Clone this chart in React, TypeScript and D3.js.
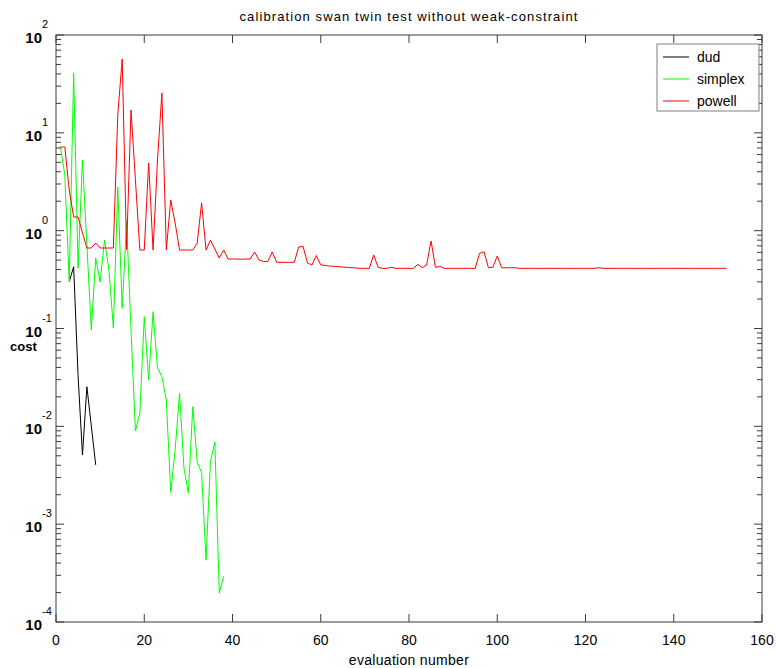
import React from 'react';
import * as d3 from 'd3';

// Cost per evaluation for each calibration method (first evaluation number given separately)
const dudFirstEval = 3;
const dudCost = [0.301, 0.428, 0.033, 0.00509, 0.0254, 0.0101, 0.00403];

const simplexFirstEval = 1;
const simplexCost = [
  7.16, 3.7, 0.301, 40.6, 0.415, 5.27, 0.713, 0.0966, 0.526, 0.299,
  0.803, 0.396, 0.101, 2.79, 0.161, 1.23, 0.0966, 0.00895, 0.0137, 0.132,
  0.0297, 0.1485, 0.0394, 0.0322, 0.0186, 0.00211, 0.00573, 0.0219, 0.00375, 0.00208,
  0.0159, 0.00432, 0.00337, 0.00043, 0.00432, 0.00692, 0.000198, 0.000292,
];

const powellFirstEval = 1;
const powellCost = [
  7.16, 7.16, 2.6, 1.38, 1.38, 0.95, 0.665, 0.665, 0.748, 0.665,
  0.665, 0.665, 0.665, 15.2, 56.9, 0.64, 17.1, 3.3, 0.634, 0.634,
  4.92, 0.634, 5.27, 25.5, 0.634, 2.06, 1.2, 0.634, 0.634, 0.634,
  0.634, 0.748, 1.92, 0.634, 0.8, 0.65, 0.526, 0.634, 0.513, 0.513,
  0.513, 0.51, 0.513, 0.513, 0.605, 0.501, 0.484, 0.484, 0.605, 0.475,
  0.475, 0.475, 0.475, 0.475, 0.681, 0.689, 0.467, 0.446, 0.557, 0.446,
  0.441, 0.435, 0.432, 0.428, 0.425, 0.422, 0.418, 0.415, 0.412, 0.412,
  0.412, 0.564, 0.422, 0.412, 0.412, 0.422, 0.412, 0.412, 0.412, 0.412,
  0.412, 0.453, 0.418, 0.446, 0.784, 0.422, 0.432, 0.412, 0.412, 0.412,
  0.412, 0.412, 0.412, 0.412, 0.412, 0.587, 0.61, 0.418, 0.422, 0.551,
  0.418, 0.418, 0.418, 0.418, 0.412, 0.412, 0.412, 0.412, 0.412, 0.412,
  0.412, 0.412, 0.412, 0.412, 0.412, 0.412, 0.412, 0.412, 0.412, 0.412,
  0.412, 0.412, 0.418, 0.412, 0.412, 0.412, 0.412, 0.412, 0.412, 0.412,
  0.412, 0.412, 0.412, 0.412, 0.412, 0.412, 0.412, 0.412, 0.412, 0.412,
  0.412, 0.412, 0.412, 0.412, 0.412, 0.412, 0.412, 0.412, 0.412, 0.412,
  0.412, 0.412,
];

const seriesNames = ['dud', 'simplex', 'powell'];
const seriesColors = ['#000000', '#00ff00', '#ff0000'];

const xTicks = [0, 20, 40, 60, 80, 100, 120, 140, 160];
const yExponents = [2, 1, 0, -1, -2, -3, -4];

const W = 776;
const H = 668;
const left = 56;
const right = 762;
const top = 35;
const bottom = 622;

const FONT = '"Liberation Sans Narrow", "Liberation Sans", Arial, sans-serif';
const AXIS = '#3c3c3c';

export default function App() {
  const x = d3.scaleLinear().domain([0, 160]).range([left, right]);
  const y = d3.scaleLog().domain([1e-4, 1e2]).range([bottom, top]);

  const line = d3
    .line<[number, number]>()
    .x((d) => x(d[0]))
    .y((d) => y(d[1]));

  const toPoints = (first: number, vals: number[]) =>
    vals.map((v, i) => [first + i, v] as [number, number]);

  const series = [
    toPoints(dudFirstEval, dudCost),
    toPoints(simplexFirstEval, simplexCost),
    toPoints(powellFirstEval, powellCost),
  ];

  // minor ticks on the log axis: 2..9 x 10^k
  const minor: number[] = [];
  for (let e = -4; e < 2; e++) {
    for (let m = 2; m <= 9; m++) minor.push(m * Math.pow(10, e));
  }

  const legendX = 657;
  const legendY = 44;
  const legendW = 102;
  const legendH = 67;

  return (
    <svg
      width={W}
      height={H}
      style={{ position: 'absolute', left: 0, top: 0, background: '#fff' }}
      fontFamily={FONT}
    >
      <rect x={0} y={0} width={W} height={H} fill="#fff" />
      <text
        x={(left + right) / 2}
        y={21}
        textAnchor="middle"
        fontSize={13}
        letterSpacing={1.1}
        fill="#000"
      >
        calibration swan twin test without weak-constraint
      </text>

      {/* data */}
      <g fill="none" strokeWidth={1}>
        {series.map((pts, i) => (
          <path key={seriesNames[i]} d={line(pts) || ''} stroke={seriesColors[i]} />
        ))}
      </g>

      {/* frame */}
      <rect
        x={left}
        y={top}
        width={right - left}
        height={bottom - top}
        fill="none"
        stroke={AXIS}
        strokeWidth={1}
      />

      {/* ticks on all four sides */}
      <g stroke={AXIS} strokeWidth={1}>
        {xTicks.map((t) => (
          <g key={t}>
            <line x1={x(t)} x2={x(t)} y1={bottom} y2={bottom - 8} />
            <line x1={x(t)} x2={x(t)} y1={top} y2={top + 8} />
          </g>
        ))}
        {yExponents.map((e) => (
          <g key={e}>
            <line x1={left} x2={left + 8} y1={y(Math.pow(10, e))} y2={y(Math.pow(10, e))} />
            <line x1={right} x2={right - 8} y1={y(Math.pow(10, e))} y2={y(Math.pow(10, e))} />
          </g>
        ))}
        {minor.map((m) => (
          <g key={m}>
            <line x1={left} x2={left + 5} y1={y(m)} y2={y(m)} />
            <line x1={right} x2={right - 5} y1={y(m)} y2={y(m)} />
          </g>
        ))}
      </g>

      {/* x tick labels */}
      <g fontSize={14} fill="#000" textAnchor="middle">
        {xTicks.map((t) => (
          <text key={t} x={x(t)} y={645}>
            {t}
          </text>
        ))}
      </g>

      {/* y tick labels */}
      <g fill="#000">
        {yExponents.map((e) => {
          const ty = y(Math.pow(10, e));
          return (
            <g key={e}>
              <text x={42} y={ty + 8} fontSize={15} fontWeight="bold" textAnchor="end">
                10
              </text>
              <text x={42} y={ty - 7} fontSize={11} textAnchor="start">
                {e < 0 ? '-' + Math.abs(e) : String(e)}
              </text>
            </g>
          );
        })}
      </g>

      <text x={10} y={351} fontSize={13} fontWeight="bold" fill="#000">
        cost
      </text>
      <text
        x={(left + right) / 2}
        y={665}
        fontSize={14}
        letterSpacing={0.3}
        textAnchor="middle"
        fill="#000"
      >
        evaluation number
      </text>

      {/* legend */}
      <rect
        x={legendX}
        y={legendY}
        width={legendW}
        height={legendH}
        fill="#fff"
        stroke="#808080"
        strokeWidth={1}
      />
      {seriesNames.map((name, i) => {
        const ly = legendY + 13 + i * 22;
        return (
          <g key={name}>
            <line x1={663} x2={689} y1={ly} y2={ly} stroke={seriesColors[i]} strokeWidth={1} />
            <text x={697} y={ly + 5} fontSize={14} fill="#000">
              {name}
            </text>
          </g>
        );
      })}
    </svg>
  );
}
